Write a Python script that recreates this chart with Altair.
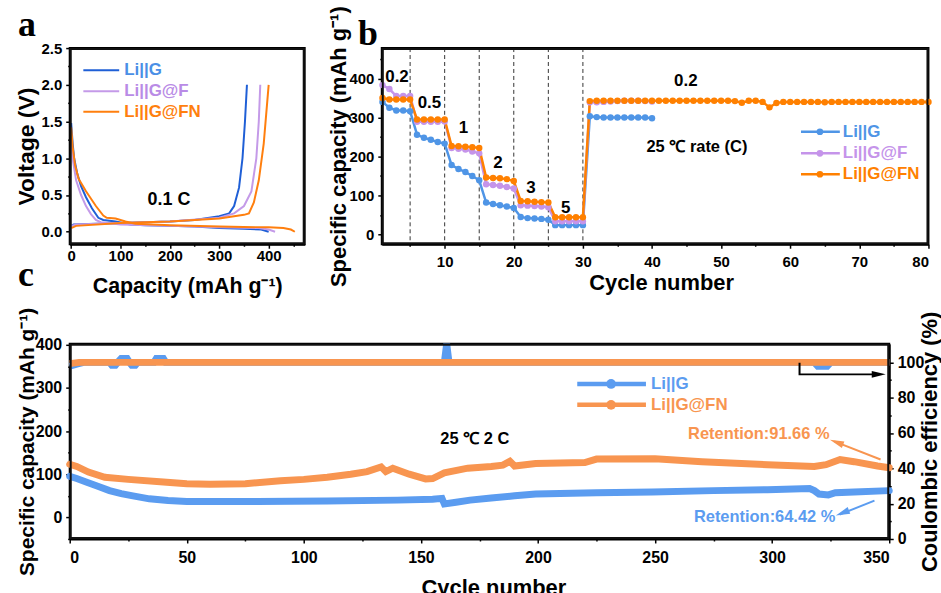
import altair as alt
import pandas as pd

FONT = "Liberation Sans"
SERIF = "Liberation Serif"

# ---------------- panel a : voltage profiles ----------------
A_SERIES = ["Li||G", "Li||G@F", "Li||G@FN"]
a_dis_cap = {
    "Li||G":    [0, 3, 6, 12, 20, 30, 42, 55, 65, 90, 120, 150, 200, 250, 300, 350, 385, 400],
    "Li||G@F":  [0, 4, 10, 20, 30, 40, 50, 60, 100, 200, 300, 380, 400, 413],
    "Li||G@FN": [0, 3, 8, 15, 30, 50, 65, 72, 90, 110, 130, 200, 300, 400, 430, 445, 453],
}
a_dis_v = {
    "Li||G":    [1.48, 1.2, 1.0, 0.8, 0.62, 0.47, 0.32, 0.19, 0.16, 0.14, 0.10, 0.09, 0.08, 0.07, 0.05, 0.04, 0.03, 0.0],
    "Li||G@F":  [1.3, 0.95, 0.7, 0.5, 0.35, 0.24, 0.16, 0.13, 0.10, 0.08, 0.06, 0.05, 0.03, 0.0],
    "Li||G@FN": [1.42, 1.15, 0.9, 0.72, 0.55, 0.35, 0.22, 0.19, 0.18, 0.14, 0.11, 0.09, 0.07, 0.06, 0.05, 0.03, 0.0],
}
a_chg_cap = {
    "Li||G":    [0, 5, 50, 150, 200, 250, 300, 320, 330, 340, 347, 352, 356],
    "Li||G@F":  [0, 10, 100, 200, 300, 330, 350, 365, 375, 380, 383],
    "Li||G@FN": [0, 10, 100, 200, 300, 350, 360, 370, 380, 390, 395, 400],
}
a_chg_v = {
    "Li||G":    [0.08, 0.10, 0.11, 0.13, 0.14, 0.16, 0.21, 0.25, 0.35, 0.6, 1.0, 1.5, 2.0],
    "Li||G@F":  [0.08, 0.10, 0.12, 0.14, 0.19, 0.25, 0.35, 0.55, 1.0, 1.5, 2.0],
    "Li||G@FN": [0.05, 0.08, 0.12, 0.14, 0.18, 0.23, 0.25, 0.4, 0.7, 1.2, 1.6, 2.0],
}
A_LINE = ["#1f5fd6", "#c49ae8", "#ff7f0e"]
A_TEXT = ["#4a8fe6", "#b98be6", "#ff7f0e"]

# ---------------- panel b : rate capability ----------------
b_cyc_short = list(range(1, 41))
b_cyc_long = list(range(1, 81))
b_blue = [340, 325, 318, 318, 316, 256, 248, 243, 237, 233, 178, 168, 160, 150, 139,
          82, 78, 75, 72, 68, 45, 42, 41, 40, 38, 24, 24, 24, 24, 24,
          303, 301, 300, 300, 300, 300, 300, 300, 300, 298]
b_purple = [383, 373, 355, 355, 355, 289, 289, 289, 289, 290, 222, 220, 218, 213, 208,
            129, 127, 125, 122, 118, 75, 74, 73, 72, 70, 34, 34, 34, 34, 34,
            339, 339, 340, 341, 342, 343, 343, 343, 342, 341]
b_orange = [350, 346, 346, 346, 346, 295, 295, 295, 295, 295, 227, 226, 225, 224, 222,
            146, 145, 144, 142, 137, 86, 85, 84, 83, 82, 44, 44, 44, 44, 44,
            342, 343, 343, 343, 343, 343, 343, 343, 343, 343, 343, 343, 343, 343, 343,
            343, 343, 343, 343, 343, 343, 342, 338, 343, 343, 340, 326, 337, 340, 340,
            340, 340, 340, 340, 339, 340, 340, 340, 340, 340, 340, 340, 340, 340, 340,
            340, 340, 340, 340, 340]
b_rate_breaks = [5, 10, 15, 20, 25, 30]
B_SERIES = ["Li||G", "Li||G@F", "Li||G@FN"]
B_COL = ["#4f95e6", "#c594ea", "#ff8000"]

# ---------------- panel c : long cycling at 2 C ----------------
c_blue_cyc = [0, 3, 7, 12, 17, 22, 27, 34, 42, 50, 80, 110, 140, 155, 159, 160, 165, 171,
              180, 190, 199, 225, 249, 275, 298, 316, 318, 320, 324, 327, 335, 350]
c_blue_cap = [95, 90, 82, 72, 62, 55, 50, 43, 39, 37, 37, 38, 40, 42, 44, 31, 35, 40,
              45, 50, 54, 57, 59, 62, 64, 67, 62, 54, 52, 57, 59, 62]
c_orange_cyc = [0, 3, 8, 15, 25, 40, 50, 60, 75, 90, 100, 110, 120, 127, 133, 135, 138, 145,
                152, 155, 160, 170, 180, 185, 188, 190, 199, 220, 225, 250, 270, 298, 318,
                323, 329, 335, 345, 350]
c_orange_cap = [123, 118, 105, 93, 88, 82, 78, 77, 78, 85, 88, 93, 100, 106, 117, 106, 114, 100,
                89, 90, 103, 114, 118, 121, 130, 119, 125, 127, 135, 136, 129, 122, 118,
                122, 134, 129, 119, 115]
c_blue_ce_cyc = [0, 3, 6, 17, 18, 19.5, 20.5, 22, 24.5, 25.5, 26.5, 28, 29, 36, 37, 40, 41,
                 160, 161, 162, 318, 319.5, 323.5, 325, 350]
c_blue_ce = [97.8, 99, 100, 100, 98.3, 98.3, 100, 102.2, 102.2, 100, 98.3, 98.3, 100, 100,
             102.2, 102.2, 100, 100, 110.5, 100, 100, 97.8, 97.8, 100, 100]
c_orange_ce_cyc = [0, 4, 350]
c_orange_ce = [99.3, 100, 100]
C_SERIES = ["Li||G", "Li||G@FN"]
C_COL = ["#5b9cf0", "#f89550"]

AX = dict(labelFont=FONT, labelFontWeight="bold", labelColor="black",
          titleFont=FONT, titleFontWeight="bold", titleColor="black",
          tickColor="black", tickWidth=1.5, domain=True, domainColor="#000000",
          domainWidth=2, grid=False)


def legend_layers(names, line_cols, text_cols, x0, x1, xm, xt, ys, lw, msize, fs):
    out = []
    for n, cl, ct, y in zip(names, line_cols, text_cols, ys):
        base = alt.Chart(pd.DataFrame({"n": [n]}))
        out.append(base.mark_rule(color=cl, strokeWidth=lw).encode(
            x=alt.value(x0), x2=alt.value(x1), y=alt.value(y)))
        if msize:
            out.append(base.mark_circle(color=cl, size=msize, opacity=1).encode(
                x=alt.value(xm), y=alt.value(y)))
        out.append(base.mark_text(color=ct, font=FONT, fontWeight="bold", fontSize=fs,
                                  align="left", baseline="middle").encode(
            x=alt.value(xt), y=alt.value(y), text="n:N"))
    return out


def anchor(x, y):
    return alt.Chart(pd.DataFrame({"t": [0]})).mark_rule(opacity=0, strokeWidth=0.01).encode(
        x=alt.value(x), x2=alt.value(x + 1), y=alt.value(y))


def frame(w, h, d=1.0):
    # plot-area border, drawn as four edge rules just inside the plot rectangle
    out = []
    for i in range(4):
        base = alt.Chart(pd.DataFrame({"edge": [i]}))
        st = dict(color="#111111", strokeWidth=2, strokeCap="square", opacity=1)
        if i == 0:
            enc = dict(x=alt.value(d), x2=alt.value(w - d), y=alt.value(d))
        elif i == 1:
            enc = dict(x=alt.value(d), x2=alt.value(w - d), y=alt.value(h - d))
        elif i == 2:
            enc = dict(x=alt.value(d), y=alt.value(d), y2=alt.value(h - d))
        else:
            enc = dict(x=alt.value(w - d), y=alt.value(d), y2=alt.value(h - d))
        out.append(base.mark_rule(**st).encode(**enc))
    return out


def letter(t, x, y):
    return alt.Chart(pd.DataFrame({"t": [t]})).mark_text(
        font=SERIF, fontWeight="bold", fontSize=36, color="black", align="left",
        baseline="alphabetic").encode(x=alt.value(x), y=alt.value(y), text="t:N")


# ---------- build panel a ----------
rows = []
for s in A_SERIES:
    for i, (c, v) in enumerate(zip(a_dis_cap[s], a_dis_v[s])):
        rows.append(dict(sa=s, seg=s + " d", cap=c, volt=v, o=i))
    for i, (c, v) in enumerate(zip(a_chg_cap[s], a_chg_v[s])):
        rows.append(dict(sa=s, seg=s + " c", cap=c, volt=v, o=i))
dfa = pd.DataFrame(rows)

AW, AH = 236, 197
xa = alt.X("cap:Q", scale=alt.Scale(domain=[-3, 473], nice=False, zero=False),
           axis=alt.Axis(values=list(range(0, 451, 50)),
                         labelExpr="datum.value % 100 === 0 ? datum.label : ''",
                         tickSize=alt.ExprRef("datum.value % 100 === 0 ? 4 : 2"),
                         labelPadding=0, labelFontSize=15,
                         title="Capacity (mAh g⁻¹)", titleFontSize=21.5,
                         titleX=AW / 2, titleY=48, titleAngle=0, titleAlign="center",
                         titleBaseline="alphabetic", **AX))
ya = alt.Y("volt:Q", scale=alt.Scale(domain=[-0.17, 2.5], nice=False, zero=False),
           axis=alt.Axis(values=[0, 0.25, 0.5, 0.75, 1.0, 1.25, 1.5, 1.75, 2.0, 2.25, 2.5],
                         format=".1f",
                         labelExpr="abs(datum.value*2 - round(datum.value*2)) < 0.001 ? datum.label : ''",
                         tickSize=alt.ExprRef("abs(datum.value*2 - round(datum.value*2)) < 0.001 ? 4 : 2"),
                         labelPadding=4, labelFontSize=15,
                         title="Voltage (V)", titleFontSize=23,
                         titleX=-36, titleY=AH / 2, titleAngle=270, titleAlign="center",
                         titleBaseline="alphabetic", **AX))
a_lines = alt.Chart(dfa).mark_line(strokeWidth=2).encode(
    x=xa, y=ya,
    color=alt.Color("sa:N", scale=alt.Scale(domain=A_SERIES, range=A_LINE), legend=None),
    detail="seg:N", order="o:Q")
a_note = alt.Chart(pd.DataFrame({"cap": [198], "volt": [0.43], "t": ["0.1 C"]})).mark_text(
    font=FONT, fontWeight="bold", fontSize=18, color="black").encode(x=xa, y=ya, text="t:N")
pa = alt.layer(anchor(-68.3, -46), anchor(0, 252), a_lines, a_note,
               letter("a", -52, -12), letter("c", -52, 239),
               *legend_layers(A_SERIES, A_LINE, A_TEXT, 13.7, 49.7, 0, 54.7,
                              [22.3, 43.3, 64], 2, 0, 17),
               *frame(AW, AH)).properties(width=AW, height=AH)

# ---------- build panel b ----------
rows = []
for s, vals in zip(B_SERIES, [b_blue, b_purple, b_orange]):
    cyc = b_cyc_long if s == "Li||G@FN" else b_cyc_short
    for c, v in zip(cyc, vals):
        rows.append(dict(sb=s, cyc=c, cap=v))
dfb = pd.DataFrame(rows)

BW, BH = 549, 197
xb = alt.X("cyc:Q", scale=alt.Scale(domain=[0.9, 80], nice=False, zero=False),
           axis=alt.Axis(values=list(range(5, 81, 5)),
                         labelExpr="datum.value % 10 === 0 ? datum.label : ''",
                         tickSize=alt.ExprRef("datum.value % 10 === 0 ? 4 : 2"),
                         labelPadding=6, labelFontSize=15,
                         title="Cycle number", titleFontSize=22,
                         titleX=BW / 2 + 6, titleY=45, titleAngle=0, titleAlign="center",
                         titleBaseline="alphabetic", **AX))
yb = alt.Y("cap:Q", scale=alt.Scale(domain=[-25, 478], nice=False, zero=False),
           axis=alt.Axis(values=list(range(0, 451, 50)),
                         labelExpr="datum.value % 100 === 0 ? datum.label : ''",
                         tickSize=alt.ExprRef("datum.value % 100 === 0 ? 4 : 2"),
                         labelPadding=4, labelFontSize=15,
                         title="Specific capacity (mAh g⁻¹)", titleFontSize=22,
                         titleX=-36, titleY=BH / 2, titleAngle=270, titleAlign="center",
                         titleBaseline="alphabetic", **AX))
b_color = alt.Color("sb:N", scale=alt.Scale(domain=B_SERIES, range=B_COL), legend=None)
b_breaks = alt.Chart(pd.DataFrame({"cyc": b_rate_breaks})).mark_rule(
    color="#333333", strokeWidth=1, strokeDash=[4, 3]).encode(x=xb, y=alt.value(0), y2=alt.value(BH))
b_lines = alt.Chart(dfb).mark_line(strokeWidth=2.5).encode(x=xb, y=yb, color=b_color)
b_pts = alt.Chart(dfb).mark_circle(size=42, opacity=1).encode(x=xb, y=yb, color=b_color)
b_rates = alt.Chart(pd.DataFrame({
    "cyc": [3.1, 7.8, 12.7, 17.7, 22.5, 27.5, 44.9],
    "cap": [405, 338, 272, 182, 118, 69, 394],
    "t": ["0.2", "0.5", "1", "2", "3", "5", "0.2"]})).mark_text(
    font=FONT, fontWeight="bold", fontSize=17, color="black").encode(x=xb, y=yb, text="t:N")
b_temp = alt.Chart(pd.DataFrame({"cyc": [46.5], "cap": [223], "t": ["25 ℃ rate (C)"]})).mark_text(
    font=FONT, fontWeight="bold", fontSize=16.5, color="black").encode(x=xb, y=yb, text="t:N")
pb = alt.layer(b_breaks, b_lines, b_pts, b_rates, b_temp, letter("b", -24, -3),
               *legend_layers(B_SERIES, B_COL, B_COL, 421, 460, 440, 463,
                              [84, 105.7, 126.7], 2.5, 45, 17),
               *frame(BW, BH)).properties(width=BW, height=BH)

# ---------- build panel c ----------
CW, CH = 823, 196
rows = []
for s, cyc, vals in [("Li||G", c_blue_cyc, c_blue_cap), ("Li||G@FN", c_orange_cyc, c_orange_cap)]:
    for c, v in zip(cyc, vals):
        rows.append(dict(sc=s, cyc=c, cap=v))
dfc = pd.DataFrame(rows)
rows = []
for s, cyc, vals in [("Li||G", c_blue_ce_cyc, c_blue_ce), ("Li||G@FN", c_orange_ce_cyc, c_orange_ce)]:
    for c, v in zip(cyc, vals):
        rows.append(dict(sc=s, cyc=c, ce=v))
dfce = pd.DataFrame(rows)

xc = alt.X("cyc:Q", scale=alt.Scale(domain=[0, 350], nice=False, zero=False),
           axis=alt.Axis(values=list(range(0, 351, 25)),
                         labelExpr="datum.value % 50 === 0 ? datum.label : ''",
                         tickSize=alt.ExprRef("datum.value % 50 === 0 ? 4 : 2"),
                         labelPadding=7, labelFontSize=16,
                         title="Cycle number", titleFontSize=22,
                         titleX=CW / 2 + 14, titleY=56, titleAngle=0, titleAlign="center",
                         titleBaseline="alphabetic", **AX))
yc = alt.Y("cap:Q", scale=alt.Scale(domain=[-50, 402], nice=False, zero=False),
           axis=alt.Axis(orient="left", values=list(range(-50, 401, 50)),
                         labelExpr="datum.value % 100 === 0 ? datum.label : ''",
                         tickSize=alt.ExprRef("datum.value % 100 === 0 ? 4 : 2"),
                         labelPadding=4, labelFontSize=16,
                         title="Specific capacity (mAh g⁻¹)", titleFontSize=21,
                         titleX=-36, titleY=CH / 2, titleAngle=270, titleAlign="center",
                         titleBaseline="alphabetic", **AX))
yce = alt.Y("ce:Q", scale=alt.Scale(domain=[0, 110.5], nice=False, zero=False),
            axis=alt.Axis(orient="right", values=list(range(0, 101, 10)),
                          labelExpr="datum.value % 20 === 0 ? datum.label : ''",
                          tickSize=alt.ExprRef("datum.value % 20 === 0 ? 4 : 2"),
                          labelPadding=4, labelFontSize=16,
                          title="Coulombic efficiency (%)", titleFontSize=22,
                          titleX=47, titleY=CH / 2, titleAngle=270, titleAlign="center",
                          titleBaseline="alphabetic", **AX))
c_color = alt.Color("sc:N", scale=alt.Scale(domain=C_SERIES, range=C_COL), legend=None)
c_cap = alt.Chart(dfc).mark_line(strokeWidth=7, strokeCap="round").encode(x=xc, y=yc, color=c_color)
c_temp = alt.Chart(pd.DataFrame({"cyc": [173], "cap": [181], "t": ["25 ℃ 2 C"]})).mark_text(
    font=FONT, fontWeight="bold", fontSize=16.5, color="black").encode(x=xc, y=yc, text="t:N")
c_ret = alt.Chart(pd.DataFrame({"cyc": [324.5, 327], "cap": [194, 0],
                                "t": ["Retention:91.66 %", "Retention:64.42 %"],
                                "sc": ["Li||G@FN", "Li||G"]})).mark_text(
    font=FONT, fontWeight="bold", fontSize=16.5, align="right", baseline="middle").encode(
    x=xc, y=yc, text="t:N", color=c_color)
c_arrows = alt.Chart(pd.DataFrame({"cyc": [346.3, 343.7], "cap": [134, 39],
                                   "cyc2": [326.5, 328.8], "cap2": [176, 6.5],
                                   "sc": ["Li||G@FN", "Li||G"]})).mark_rule(strokeWidth=2).encode(
    x=xc, y=yc, x2="cyc2:Q", y2="cap2:Q", color=c_color)
HEAD = "M0,0L-0.5,2L0.5,2Z"
c_heads = alt.Chart(pd.DataFrame({"cyc": [324.7, 327.2], "cap": [180, 4.6],
                                  "ang": [291, 249], "sc": ["Li||G@FN", "Li||G"]})).mark_point(
    shape=HEAD, filled=True, size=200, opacity=1).encode(
    x=xc, y=yc, angle=alt.Angle("ang:Q", scale=None), color=c_color)
left = alt.layer(anchor(0, -42.7), c_cap, c_temp, c_ret, c_arrows, c_heads,
                 *legend_layers(C_SERIES, C_COL, C_COL, 509.7, 578.7, 543.7, 583.7,
                                [40.3, 61.3], 4.5, 95, 17))

c_ce = alt.Chart(dfce).mark_line(strokeWidth=7).encode(x=xc, y=yce, color=c_color)
c_path = alt.Chart(pd.DataFrame({"cyc": [311.7, 311.7, 344.5], "ce": [99.8, 93.2, 93.2],
                                 "o": [0, 1, 2]})).mark_line(color="black", strokeWidth=2).encode(
    x=xc, y=yce, order="o:Q")
c_phead = alt.Chart(pd.DataFrame({"cyc": [348.5], "ce": [93.2], "ang": [90]})).mark_point(
    shape=HEAD, filled=True, size=196, color="black", opacity=1).encode(
    x=xc, y=yce, angle=alt.Angle("ang:Q", scale=None))
right = alt.layer(c_ce, c_path, c_phead, *frame(CW, CH))

pc = alt.layer(left, right).resolve_scale(y="independent").properties(width=CW, height=CH)

top_row = alt.hconcat(pa, pb, spacing=77.4, bounds="flush").resolve_scale(color="independent")
chart = alt.vconcat(top_row, pc, spacing=0, bounds="full").resolve_scale(
    color="independent"
).configure(padding=0, background="white").configure_view(stroke="#000000", strokeWidth=2)

chart.save("out.html", embed_options={"renderer": "svg", "actions": False})
